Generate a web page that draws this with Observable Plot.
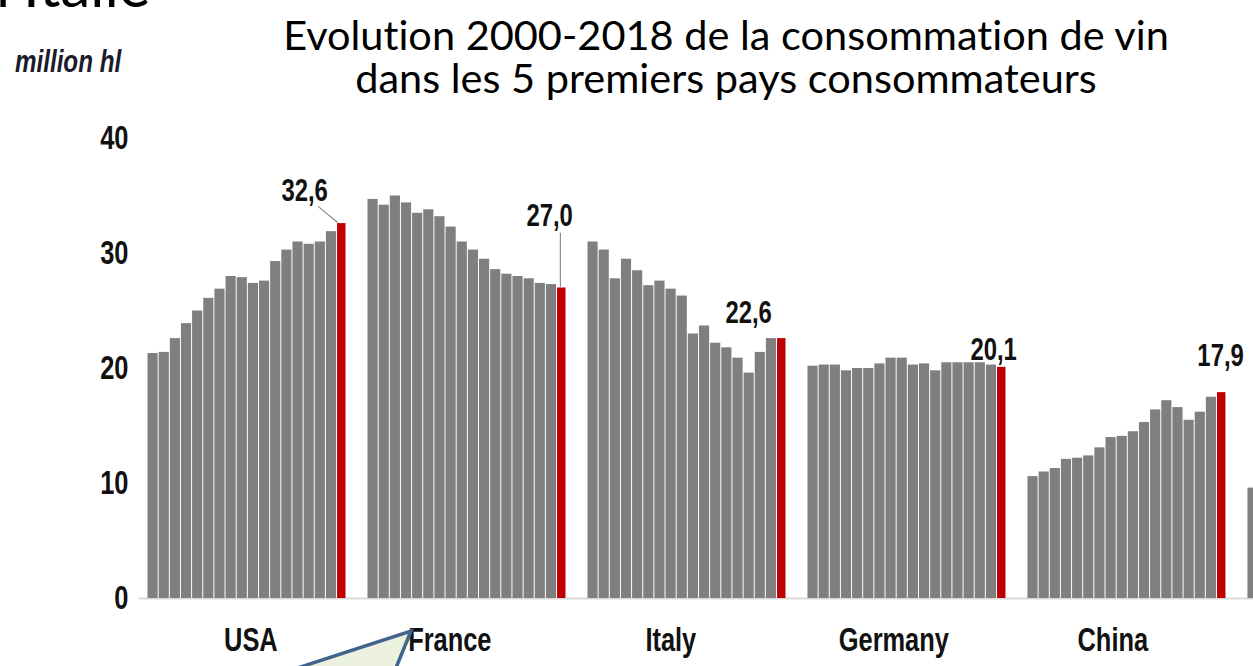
<!DOCTYPE html>
<html><head><meta charset="utf-8">
<script src="https://cdn.jsdelivr.net/npm/d3@7"></script>
<script src="https://cdn.jsdelivr.net/npm/@observablehq/plot@0.6"></script>
<style>
html,body{margin:0;padding:0;background:#fff;overflow:hidden;width:1253px;height:666px}
#wrap{position:relative;width:1253px;height:666px;overflow:hidden}
#chart{position:absolute;left:0;top:0}
.tl{position:absolute;left:226px;width:1000px;height:40px;text-align:center;font-family:Lato,"Open Sans",sans-serif;font-size:41.5px;line-height:40px;color:#000;font-variant-ligatures:none;white-space:nowrap}
#t1{top:14px}
#t2{top:57px}
#unit{position:absolute;left:15px;top:44px;font-family:"Liberation Sans","Arial",sans-serif;font-weight:bold;font-style:italic;font-size:31px;color:#1b1b2b;white-space:nowrap;transform:scaleX(0.78);transform-origin:0 0}
#head{position:absolute;left:-4px;top:-52px;font-family:Lato,"Open Sans",sans-serif;font-size:60px;color:#000;white-space:nowrap}
#callout{position:absolute;left:0;top:0;pointer-events:none}
</style></head>
<body><div id="wrap">
<div id="head">l’Italie</div>
<div id="chart"></div>
<div class="tl" id="t1">Evolution 2000-2018 de la consommation de vin</div>
<div class="tl" id="t2">dans les 5 premiers pays consommateurs</div>
<div id="unit">million hl</div>
<svg id="callout" width="1253" height="666"><path d="M 230 690 L 411 631 L 387 690 Z" fill="#ebf1de" stroke="#41648c" stroke-width="3.5" stroke-linejoin="miter"/></svg>
</div>
<script>
// ---- data (million hl) ----
const years = [2001,2002,2003,2004,2005,2006,2007,2008,2009,2010,2011,2012,2013,2014,2015,2016,2017,2018];
const countries = ["USA","France","Italy","Germany","China","UK"];
const usa     = [21.3,21.4,22.6,23.9,25.0,26.1,26.9,28.0,27.9,27.4,27.6,29.3,30.3,31.0,30.8,31.0,31.9,32.6];
const france  = [34.7,34.2,35.0,34.4,33.5,33.8,33.2,32.3,31.0,30.3,29.5,28.6,28.2,28.0,27.8,27.4,27.3,27.0];
const italy   = [31.0,30.3,27.8,29.5,28.5,27.2,27.6,26.9,26.3,23.0,23.7,22.2,21.8,20.9,19.6,21.4,22.6,22.6];
const germany = [20.2,20.3,20.3,19.8,20.0,20.0,20.4,20.9,20.9,20.3,20.4,19.8,20.5,20.5,20.5,20.5,20.3,20.1];
const china   = [10.6,11.0,11.3,12.1,12.2,12.4,13.1,14.0,14.1,14.5,15.3,16.4,17.2,16.6,15.5,16.2,17.5,17.9];
const uk      = [9.6];
const yTicks  = [0,10,20,30,40];

// ---- layout / annotation settings ----
const series = [usa, france, italy, germany, china, uk];
const GROUP = 19.73;           // group step, in bar units
const BARPX = 11.15;           // px per bar unit
const W = 1253, H = 666, ML = 147;
const labelDx = [-38,-13,-34,-9,-2];
const labelDy = [-33,-72,-26,-17,-37];
const catDx   = [3,-18,-17,-14,-15];
const leaderOffsets = [
  {g: 0, ax: 0.05, ay: 0.1, bx: -1.7, by: 1.5},
  {g: 1, ax: 0.3,  ay: 0.1, bx: 0.3,  by: 4.8}
];
const font = "'Liberation Sans',Arial,sans-serif";
const SQUEEZE = 0.77;

const rows = [];
series.forEach((vals, g) => vals.forEach((v, i) => rows.push({
  country: countries[g], g, year: years[i], value: v,
  x1: g * GROUP + i, x2: g * GROUP + i + 1,
  last: i === years.length - 1
})));
const gray = rows.filter(d => !d.last);
const red = rows.filter(d => d.last);
const fmt = v => d3.format(".1f")(v).replace(".", ",");
const cats = countries.slice(0, 5).map((c, g) => ({c, g, xc: g * GROUP + years.length / 2}));
const leaders = leaderOffsets.map(o => {
  const b = red.find(d => d.g === o.g);
  return {x1: b.x1 + o.ax, y1: b.value + o.ay, x2: b.x1 + o.bx, y2: b.value + o.by};
});

const chart = Plot.plot({
  width: W, height: H,
  marginLeft: ML, marginRight: 0, marginTop: 138, marginBottom: 68,
  x: {domain: [0, (W - ML) / BARPX], axis: null},
  y: {domain: [0, 40], axis: null},
  style: {background: "transparent", overflow: "visible"},
  marks: [
    Plot.ruleY([0], {stroke: "#d9d9d9", strokeWidth: 2, insetLeft: -8}),
    Plot.rectY(gray, {x1: "x1", x2: "x2", y: "value", fill: "#7f7f7f", insetLeft: 0.5, insetRight: 0.5, clip: true}),
    Plot.rectY(red, {x1: "x1", x2: "x2", y: "value", fill: "#c00000", insetLeft: 0.5, insetRight: 2.2, clip: true}),
    Plot.link(leaders, {x1: "x1", y1: "y1", x2: "x2", y2: "y2", stroke: "#8c8c8c", strokeWidth: 1.2}),
    Plot.axisY({ticks: yTicks, tickSize: 0, tickPadding: 19, label: null, fontSize: 33, fontWeight: "bold", fontFamily: font, fill: "#111"}),
    Plot.text(red.filter(d => d.g < 5), {
      x: d => (d.x1 + d.x2) / 2, y: "value", text: d => fmt(d.value),
      fontSize: 31, fontWeight: "bold", fontFamily: font, fill: "#111"
    }),
    Plot.text(cats, {x: "xc", y: 0, text: "c", dy: 42, fontSize: 33, fontWeight: "bold", fontFamily: font, fill: "#111"})
  ]
});
const groups = chart.querySelectorAll("g[aria-label='text']");
// per-label offsets (annotation placement)
groups[0].querySelectorAll("text").forEach((t, k) => {
  t.setAttribute("transform", (t.getAttribute("transform") || "") + ` translate(${labelDx[k]},${labelDy[k]})`);
});
groups[1].querySelectorAll("text").forEach((t, k) => {
  t.setAttribute("transform", (t.getAttribute("transform") || "") + ` translate(${catDx[k]},0)`);
});
// condensed look for all chart texts
chart.querySelectorAll("text").forEach(t => {
  t.setAttribute("transform", (t.getAttribute("transform") || "") + ` scale(${SQUEEZE},1)`);
});
document.getElementById("chart").append(chart);
</script>
</body></html>
